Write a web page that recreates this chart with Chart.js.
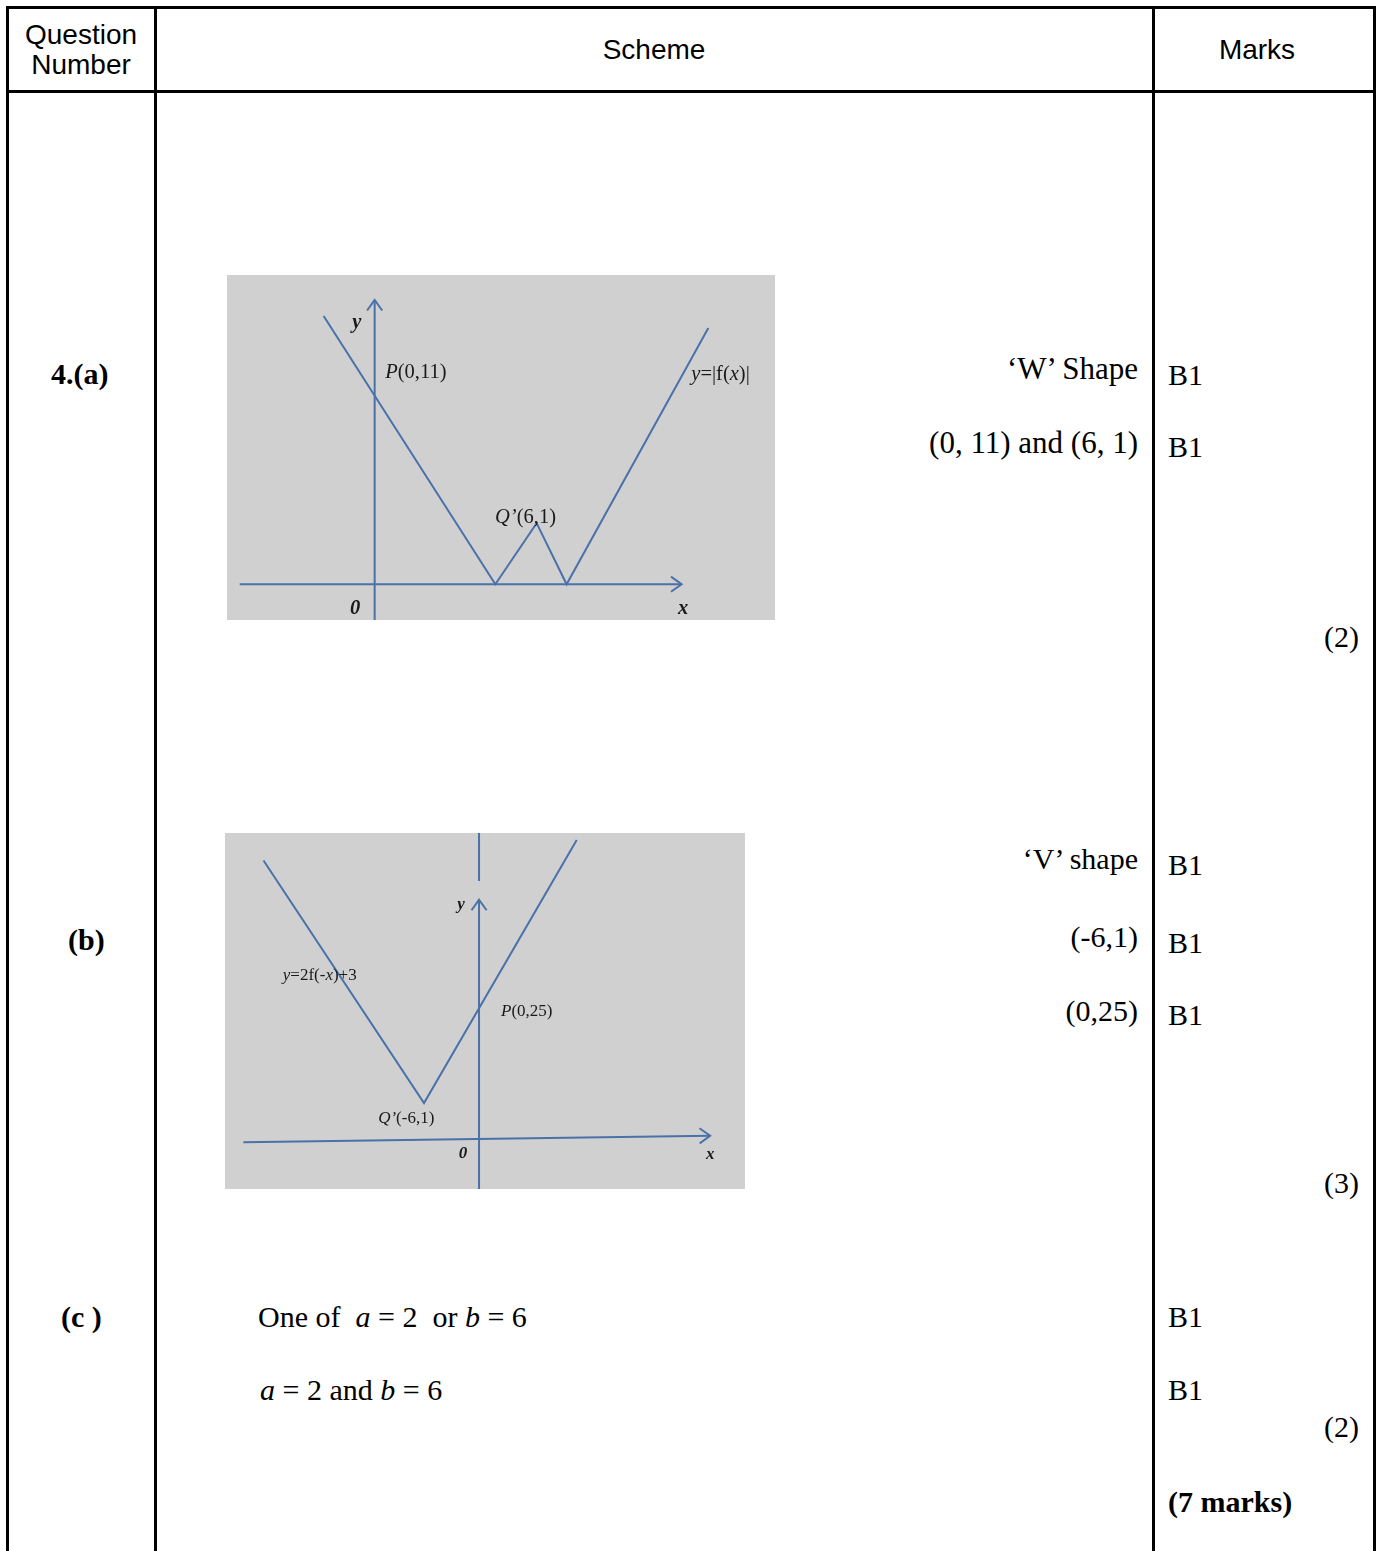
<!DOCTYPE html>
<html>
<head>
<meta charset="utf-8">
<script src="https://cdn.jsdelivr.net/npm/chart.js@4.4.0/dist/chart.umd.min.js"></script>
<style>
body { margin:0; width:1381px; height:1551px; overflow:hidden; background:#fff; position:relative; }
.ln { position:absolute; background:#000; }
.t { position:absolute; font-family:"Liberation Serif","Times New Roman",serif; font-size:30px; line-height:30px; white-space:nowrap; color:#000; }
.s { position:absolute; font-family:"Liberation Sans",Arial,sans-serif; font-size:28px; line-height:28px; white-space:nowrap; text-align:center; color:#000; }
.r { left:0; width:1138px; text-align:right; }
.b { font-weight:bold; }
canvas { position:absolute; background:#d0d0d0; }
</style>
</head>
<body>
<!-- table rules -->
<div class="ln" style="left:6px;top:6px;width:1370px;height:3px"></div>
<div class="ln" style="left:6px;top:90px;width:1370px;height:3px"></div>
<div class="ln" style="left:6px;top:6px;width:3px;height:1560px"></div>
<div class="ln" style="left:154px;top:6px;width:3px;height:1560px"></div>
<div class="ln" style="left:1152px;top:6px;width:3px;height:1560px"></div>
<div class="ln" style="left:1373px;top:6px;width:3px;height:1560px"></div>

<!-- header -->
<div class="s" style="left:7px;width:148px;top:21px">Question</div>
<div class="s" style="left:7px;width:148px;top:51px">Number</div>
<div class="s" style="left:155px;width:998px;top:36px">Scheme</div>
<div class="s" style="left:1153px;width:208px;top:36px">Marks</div>

<!-- part (a) -->
<div class="t b" style="left:51px;top:359px">4.(a)</div>
<div class="t r" style="top:354px;font-size:31px">‘W’ Shape</div>
<div class="t r" style="top:428px;font-size:31px">(0, 11) and (6, 1)</div>
<div class="t" style="left:1168px;top:360px">B1</div>
<div class="t" style="left:1168px;top:432px">B1</div>
<div class="t" style="left:1153px;width:206px;text-align:right;top:622px">(2)</div>

<!-- part (b) -->
<div class="t b" style="left:68px;top:925px">(b)</div>
<div class="t r" style="top:844px">‘V’ shape</div>
<div class="t r" style="top:922px">(-6,1)</div>
<div class="t r" style="top:996px">(0,25)</div>
<div class="t" style="left:1168px;top:850px">B1</div>
<div class="t" style="left:1168px;top:928px">B1</div>
<div class="t" style="left:1168px;top:1000px">B1</div>
<div class="t" style="left:1153px;width:206px;text-align:right;top:1168px">(3)</div>

<!-- part (c) -->
<div class="t b" style="left:61px;top:1302px">(c&nbsp;)</div>
<div class="t" style="left:258px;top:1302px">One of&nbsp; <i>a</i> = 2&nbsp; or <i>b</i> = 6</div>
<div class="t" style="left:260px;top:1375px"><i>a</i> = 2 and <i>b</i> = 6</div>
<div class="t" style="left:1168px;top:1302px">B1</div>
<div class="t" style="left:1168px;top:1375px">B1</div>
<div class="t" style="left:1153px;width:206px;text-align:right;top:1412px">(2)</div>
<div class="t b" style="left:1168px;top:1487px">(7 marks)</div>

<canvas id="graphA" width="548" height="345" style="left:227px;top:275px"></canvas>
<canvas id="graphB" width="520" height="356" style="left:225px;top:833px"></canvas>

<script>
const lineBlue = '#4a71a8';

// graph (a): y = |f(x)|, sketch units
const wX = [-1.89, 4.47, 6, 7.11, 12.36];
const wY = [15.6, 0, 3.55, 0, 14.9];
const axisAX = [-5.0, 11.37];   // x axis ends, along y = 0
const axisAY = [-2.08, 16.53];  // y axis ends, along x = 0
const rangeA = [-5.47, 14.83, -2.08, 17.98];
const labelsA = [
  [-0.66, 15.2, 'center', [['y', 'bold italic']]],
  [0.39, 12.3, 'left', [['P', 'italic'], ['(0,11)', '']]],
  [4.46, 3.9, 'left', [['Q’', 'italic'], ['(6,1)', '']]],
  [11.73, 12.2, 'left', [['y', 'italic'], ['=|f(', ''], ['x', 'italic'], [')|', '']]],
  [-0.72, -1.4, 'center', [['0', 'bold italic']]],
  [11.43, -1.4, 'center', [['x', 'bold italic']]]
];

// graph (b): y = 2f(-x) + 3
const vX = [-23.5, -6, 10.65];
const vY = [54.1, 6.8, 58.1];
const axisBXx = [-25.7, 25.2];
const axisBXy = [-0.84, 0.45];
const axisBY = [-9.94, 46.45];
const stubBY = [50.1, 59.45];   // leftover bit of axis at the top of the picture
const rangeB = [-27.7, 29.0, -9.94, 59.45];
const labelsB = [
  [-1.96, 45.4, 'center', [['y', 'bold italic']]],
  [-21.4, 31.6, 'left', [['y', 'italic'], ['=2f(-', ''], ['x', 'italic'], [')+3', '']]],
  [2.4, 24.6, 'left', [['P', 'italic'], ['(0,25)', '']]],
  [-11.0, 3.7, 'left', [['Q’', 'italic'], ['(-6,1)', '']]],
  [-1.74, -3.1, 'center', [['0', 'bold italic']]],
  [25.2, -3.3, 'center', [['x', 'bold italic']]]
];

const zip = (xs, ys) => xs.map((x, i) => ({x: x, y: ys[i]}));

const sketchPlugin = {
  id: 'sketch',
  afterDatasetsDraw(chart, args, opts) {
    const ctx = chart.ctx;
    const xs = chart.scales.x, ys = chart.scales.y;
    chart.data.datasets.forEach((ds, i) => {
      if (!ds.arrow) return;
      const pts = chart.getDatasetMeta(i).data;
      const a = pts[pts.length - 2], b = pts[pts.length - 1];
      const ang = Math.atan2(b.y - a.y, b.x - a.x);
      ctx.save();
      ctx.strokeStyle = ds.borderColor;
      ctx.lineWidth = ds.borderWidth;
      ctx.beginPath();
      ctx.moveTo(b.x - 13 * Math.cos(ang - 0.62), b.y - 13 * Math.sin(ang - 0.62));
      ctx.lineTo(b.x, b.y);
      ctx.lineTo(b.x - 13 * Math.cos(ang + 0.62), b.y - 13 * Math.sin(ang + 0.62));
      ctx.stroke();
      ctx.restore();
    });
    opts.labels.forEach(([x, y, align, runs]) => {
      let px = xs.getPixelForValue(x);
      const py = ys.getPixelForValue(y);
      ctx.save();
      ctx.fillStyle = '#1a1a1a';
      ctx.textBaseline = 'middle';
      ctx.textAlign = 'left';
      const fonts = runs.map(r => `${r[1]} ${opts.size}px "Liberation Serif", serif`);
      let w = 0;
      runs.forEach((r, k) => { ctx.font = fonts[k]; w += ctx.measureText(r[0]).width; });
      if (align === 'center') px -= w / 2;
      runs.forEach((r, k) => {
        ctx.font = fonts[k];
        ctx.fillText(r[0], px, py);
        px += ctx.measureText(r[0]).width;
      });
      ctx.restore();
    });
  }
};

function line(data, width, arrow) {
  return {
    data: data,
    showLine: true,
    borderColor: lineBlue,
    borderWidth: width,
    pointRadius: 0,
    fill: false,
    arrow: arrow
  };
}

function makeGraph(id, range, datasets, labels, size) {
  return new Chart(document.getElementById(id), {
    type: 'scatter',
    data: { datasets: datasets },
    options: {
      responsive: false,
      animation: false,
      layout: { padding: 0 },
      plugins: {
        legend: { display: false },
        tooltip: { enabled: false },
        sketch: { labels: labels, size: size }
      },
      scales: {
        x: { type: 'linear', display: false, min: range[0], max: range[1] },
        y: { type: 'linear', display: false, min: range[2], max: range[3] }
      }
    },
    plugins: [sketchPlugin]
  });
}

makeGraph('graphA', rangeA, [
  line(zip(wX, wY), 2, false),
  line(zip(axisAX, [0, 0]), 2, true),
  line(zip([0, 0], axisAY), 2, true)
], labelsA, 20.5);

makeGraph('graphB', rangeB, [
  line(zip(vX, vY), 2, false),
  line(zip(axisBXx, axisBXy), 2, true),
  line(zip([0, 0], axisBY), 2, true),
  line(zip([0, 0], stubBY), 2, false)
], labelsB, 17);
</script>
</body>
</html>
